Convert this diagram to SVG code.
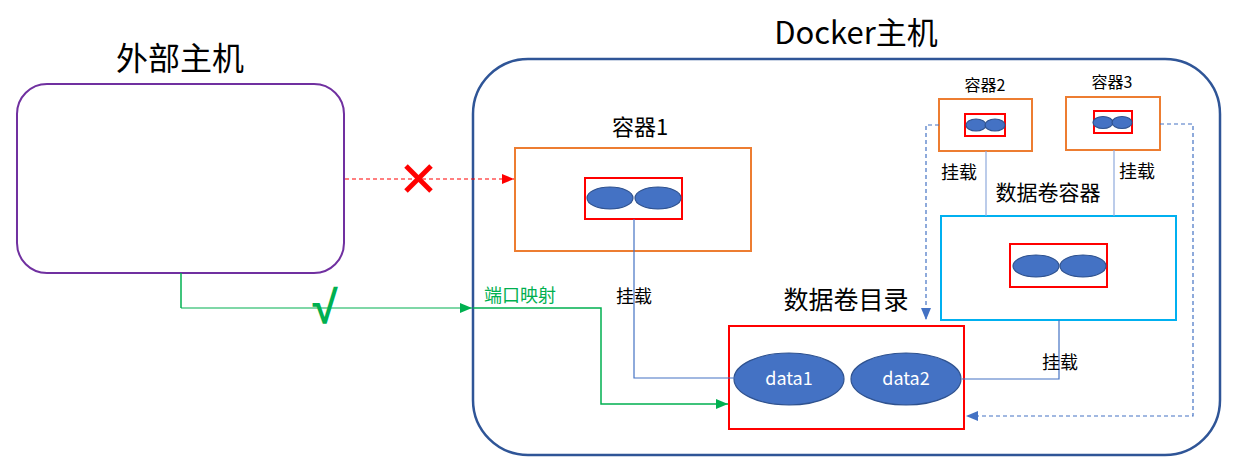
<svg xmlns="http://www.w3.org/2000/svg" width="1239" height="474" viewBox="0 0 1239 474">
<style>
text{font-family:"Noto Sans CJK SC","Liberation Sans",sans-serif;fill:#000;text-anchor:middle}
.orange{fill:#fff;stroke:#ED7D31;stroke-width:2}
.red{fill:none;stroke:#FF0000;stroke-width:2}
.ell{fill:#4472C4;stroke:#2F528F;stroke-width:1.2}
.blue{fill:none;stroke:#4472C4;stroke-width:1.2}
.dblue{fill:none;stroke:#4472C4;stroke-width:1.2;stroke-dasharray:4 3}
.green{fill:none;stroke:#00B050;stroke-width:1.5}
</style>
<defs>
<marker id="ar" markerWidth="12" markerHeight="10" refX="12" refY="5" orient="auto" markerUnits="userSpaceOnUse"><path d="M0,0 L12,5 L0,10 Z" fill="#FF0000"/></marker>
<marker id="ag" markerWidth="12" markerHeight="10" refX="12" refY="5" orient="auto" markerUnits="userSpaceOnUse"><path d="M0,0 L12,5 L0,10 Z" fill="#00B050"/></marker>
<marker id="ab" markerWidth="12" markerHeight="10" refX="12" refY="5" orient="auto" markerUnits="userSpaceOnUse"><path d="M0,0 L12,5 L0,10 Z" fill="#4472C4"/></marker>
</defs>
<rect width="1239" height="474" fill="#fff"/>

<g id="external-host">
<rect x="17" y="84" width="327" height="189" rx="30" fill="#fff" stroke="#7030A0" stroke-width="2"/>
<text x="180" y="70" font-size="32">外部主机</text>
</g>

<g id="docker-host">
<rect x="473" y="59" width="747" height="396" rx="55" fill="none" stroke="#2F5597" stroke-width="2.5"/>
<text x="856" y="44" font-size="31">Docker主机</text>
</g>

<g id="container1">
<rect class="orange" x="515" y="148" width="236" height="103"/>
<text x="640" y="135" font-size="22">容器1</text>
<rect class="red" x="585" y="178" width="97" height="41"/>
<ellipse class="ell" cx="610" cy="198" rx="23" ry="11"/>
<ellipse class="ell" cx="658" cy="198" rx="23" ry="11"/>
</g>

<g id="container2">
<rect class="orange" x="939" y="99" width="93" height="52"/>
<text x="985" y="91" font-size="16">容器2</text>
<rect class="red" x="965" y="114" width="40" height="22"/>
<ellipse class="ell" cx="976" cy="125" rx="10" ry="6"/>
<ellipse class="ell" cx="995" cy="125" rx="10" ry="6"/>
</g>

<g id="container3">
<rect class="orange" x="1066" y="97" width="94" height="53"/>
<text x="1112" y="88" font-size="16">容器3</text>
<rect class="red" x="1094" y="111" width="38" height="22"/>
<ellipse class="ell" cx="1103" cy="122.5" rx="10" ry="6"/>
<ellipse class="ell" cx="1122" cy="122.5" rx="10" ry="6"/>
</g>

<g id="volume-container">
<rect x="941" y="216" width="235" height="104" fill="#fff" stroke="#00B0F0" stroke-width="2"/>
<text x="1048" y="200" font-size="21">数据卷容器</text>
<rect class="red" x="1010" y="244" width="97" height="43"/>
<ellipse class="ell" cx="1036" cy="266" rx="23" ry="11"/>
<ellipse class="ell" cx="1083" cy="266" rx="23" ry="11"/>
</g>

<g id="volume-dir">
<rect x="729" y="326" width="235" height="103" fill="#fff" stroke="#FF0000" stroke-width="2"/>
<text x="846" y="309" font-size="25">数据卷目录</text>
<ellipse class="ell" cx="789" cy="379" rx="55" ry="26"/>
<ellipse class="ell" cx="906" cy="379" rx="55" ry="26"/>
<text x="789" y="385" font-size="18" style="fill:#fff">data1</text>
<text x="906" y="385" font-size="18" style="fill:#fff">data2</text>
</g>

<g id="connectors">
<path d="M345,179 H514" fill="none" stroke="#FF0000" stroke-width="1.2" stroke-dasharray="4 3" marker-end="url(#ar)"/>
<g id="cross-mark" stroke="#FF0000" stroke-width="5">
<line x1="406" y1="166" x2="431" y2="191"/>
<line x1="431" y1="166" x2="406" y2="191"/>
</g>
<path d="M181,273 V308" class="green"/>
<path d="M181,308 H472" fill="none" stroke="#00B050" stroke-opacity="0.5" stroke-width="2" marker-end="url(#ag)"/>
<path d="M473,308 H601 V404 H728" class="green" marker-end="url(#ag)"/>
<text x="325" y="323" font-size="46" font-weight="bold" style="fill:#00B050;font-family:'Liberation Sans','DejaVu Sans',sans-serif">√</text>
<text x="520" y="302" font-size="18" style="fill:#00B050">端口映射</text>

<path d="M634,219 V378 H735" class="blue"/>
<text x="634" y="303" font-size="18">挂载</text>

<path d="M986,151 V216" fill="none" stroke="#8FAADC" stroke-width="1.2"/>
<path d="M1114,150 V216" fill="none" stroke="#8FAADC" stroke-width="1.2"/>
<text x="959" y="179" font-size="18">挂载</text>
<text x="1137" y="178" font-size="18">挂载</text>

<path d="M1059,320 V379 H962" class="blue"/>
<text x="1060" y="369" font-size="18">挂载</text>

<path d="M939,125 H926 V320" class="dblue" marker-end="url(#ab)"/>
<path d="M1160,124 H1193 V416 H966" class="dblue" marker-end="url(#ab)"/>
</g>
</svg>
